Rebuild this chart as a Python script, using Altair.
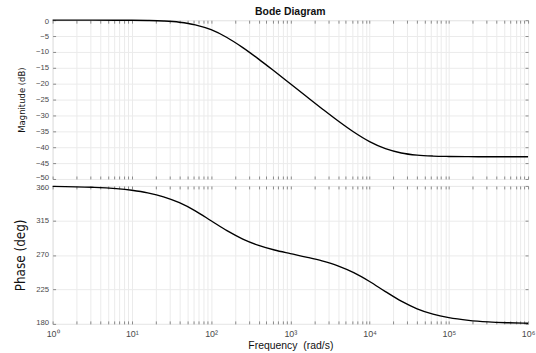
import altair as alt
import pandas as pd

# Frequency points (rad/s)
freq = [1, 3.162, 10, 15.85, 25.12, 39.81, 63.10, 100, 158.5, 251.2, 398.1, 631.0,
        1000, 1585, 2512, 3981, 6310, 10000, 15850, 25120, 39810, 63100,
        100000, 177800, 316200, 562300, 1000000]
# Magnitude (dB)
mag = [0.0, 0.0, -0.04, -0.11, -0.27, -0.64, -1.46, -3.01, -5.46, -8.64, -12.26, -16.10,
       -20.02, -23.96, -27.87, -31.67, -35.21, -38.24, -40.46, -41.81, -42.49, -42.79,
       -42.91, -42.97, -42.99, -43.0, -43.0]
# Phase (deg)
phase = [359.4, 358.2, 354.3, 350.9, 345.8, 338.1, 327.5, 314.6, 301.6, 290.7, 282.5, 276.4,
         271.7, 267.2, 262.2, 255.7, 246.8, 235.3, 222.1, 209.6, 199.7, 192.7,
         188.1, 184.6, 182.6, 181.5, 180.8]

major_x = [1, 10, 100, 1000, 10000, 100000, 1000000]
major_x_labels = ["10⁰", "10¹", "10²", "10³", "10⁴", "10⁵", "10⁶"]
minor_mult = [2, 3, 4, 5, 6, 7, 8, 9]
mag_ticks = [-50, -45, -40, -35, -30, -25, -20, -15, -10, -5, 0]
phase_ticks = [180, 225, 270, 315, 360]

all_x = sorted(major_x + [m * d for d in major_x[:-1] for m in minor_mult])

df = pd.DataFrame({"freq": freq, "mag": mag, "phase": phase})

label_expr = ""
for v, lab in zip(major_x, major_x_labels):
    label_expr += f"datum.value == {v} ? '{lab}' : "
label_expr += "''"

FONT = "Liberation Sans, Arial, sans-serif"
NARROW = "Liberation Sans Narrow, DejaVu Sans Condensed, sans-serif"
TICK = 3
GRID = "#ebebeb"
TICKC = "#8a8a8a"
LABC = "#4a4a4a"
W = 479

xscale = alt.Scale(type="log", domain=[1, 1000000])


def x_axis(orient, labels=False, grid=False, title=None):
    kw = dict(orient=orient, values=all_x, labels=labels, grid=grid, gridColor=GRID,
              gridWidth=1, ticks=True, tickSize=TICK, offset=-TICK, domain=False,
              tickColor=TICKC, title=title)
    if labels:
        kw.update(labelExpr=label_expr, labelFont=FONT, labelFontSize=9,
                  labelColor=LABC, labelPadding=6, labelFlush=False)
    if title:
        kw.update(titleFont=FONT, titleFontSize=10.5, titleFontWeight="normal",
                  titleColor="#111", titlePadding=2)
    return alt.Axis(**kw)


def y_axis(orient, values, labels=False, grid=False, title=None, tfont=9, tpad=8):
    kw = dict(orient=orient, values=values, labels=labels, grid=grid, gridColor=GRID,
              gridWidth=1, ticks=True, tickSize=TICK, offset=-TICK, domain=False,
              tickColor=TICKC, title=title)
    if labels:
        kw.update(labelFont=FONT, labelFontSize=7.8, labelColor=LABC, labelPadding=4,
                  labelFlush=True, labelFlushOffset=2.5)
    if title:
        kw.update(titleFont=NARROW, titleFontSize=tfont, titleFontWeight="normal",
                  titleColor="#111", titlePadding=tpad)
    return alt.Axis(**kw)


def panel(field, domain, ticks, height, title, tfont, tpad, bottom_labels, chart_title=None):
    yscale = alt.Scale(domain=domain, nice=False, zero=False)
    main = alt.Chart(df).mark_line(color="black", strokeWidth=1.4, interpolate="monotone").encode(
        x=alt.X("freq:Q", scale=xscale,
                axis=x_axis("bottom", labels=bottom_labels, grid=True,
                            title="Frequency\u00a0 (rad/s)" if bottom_labels else None)),
        y=alt.Y(f"{field}:Q", scale=yscale,
                axis=y_axis("left", ticks, labels=True, grid=True, title=title,
                            tfont=tfont, tpad=tpad)),
    )
    ghost = alt.Chart(df).mark_line(strokeOpacity=0).encode(
        x=alt.X("freq:Q", scale=xscale, axis=x_axis("top")),
        y=alt.Y(f"{field}:Q", scale=yscale, axis=y_axis("right", ticks)),
    )
    props = dict(width=W, height=height)
    if chart_title is not None:
        props["title"] = chart_title
    return alt.layer(main, ghost).resolve_axis(x="independent", y="independent").properties(**props)


top = panel("mag", [-50, 0], mag_ticks, 160, "Magnitude (dB)", 9.5, 9, False,
            alt.TitleParams("Bode Diagram", font=FONT, fontSize=10.5, fontWeight="bold",
                            color="#111", anchor="middle", offset=0))
bottom = panel("phase", [180, 360], phase_ticks, 139, "Phase (deg)", 13.5, 8, True)

chart = alt.vconcat(top, bottom, spacing=7, bounds="flush").properties(
    padding={"left": 13, "top": 5, "right": 0, "bottom": 0}
).configure_view(stroke="#9a9a9a", strokeWidth=1).configure(background="white")

chart.save("out.html", embed_options={"renderer": "svg", "actions": False})
